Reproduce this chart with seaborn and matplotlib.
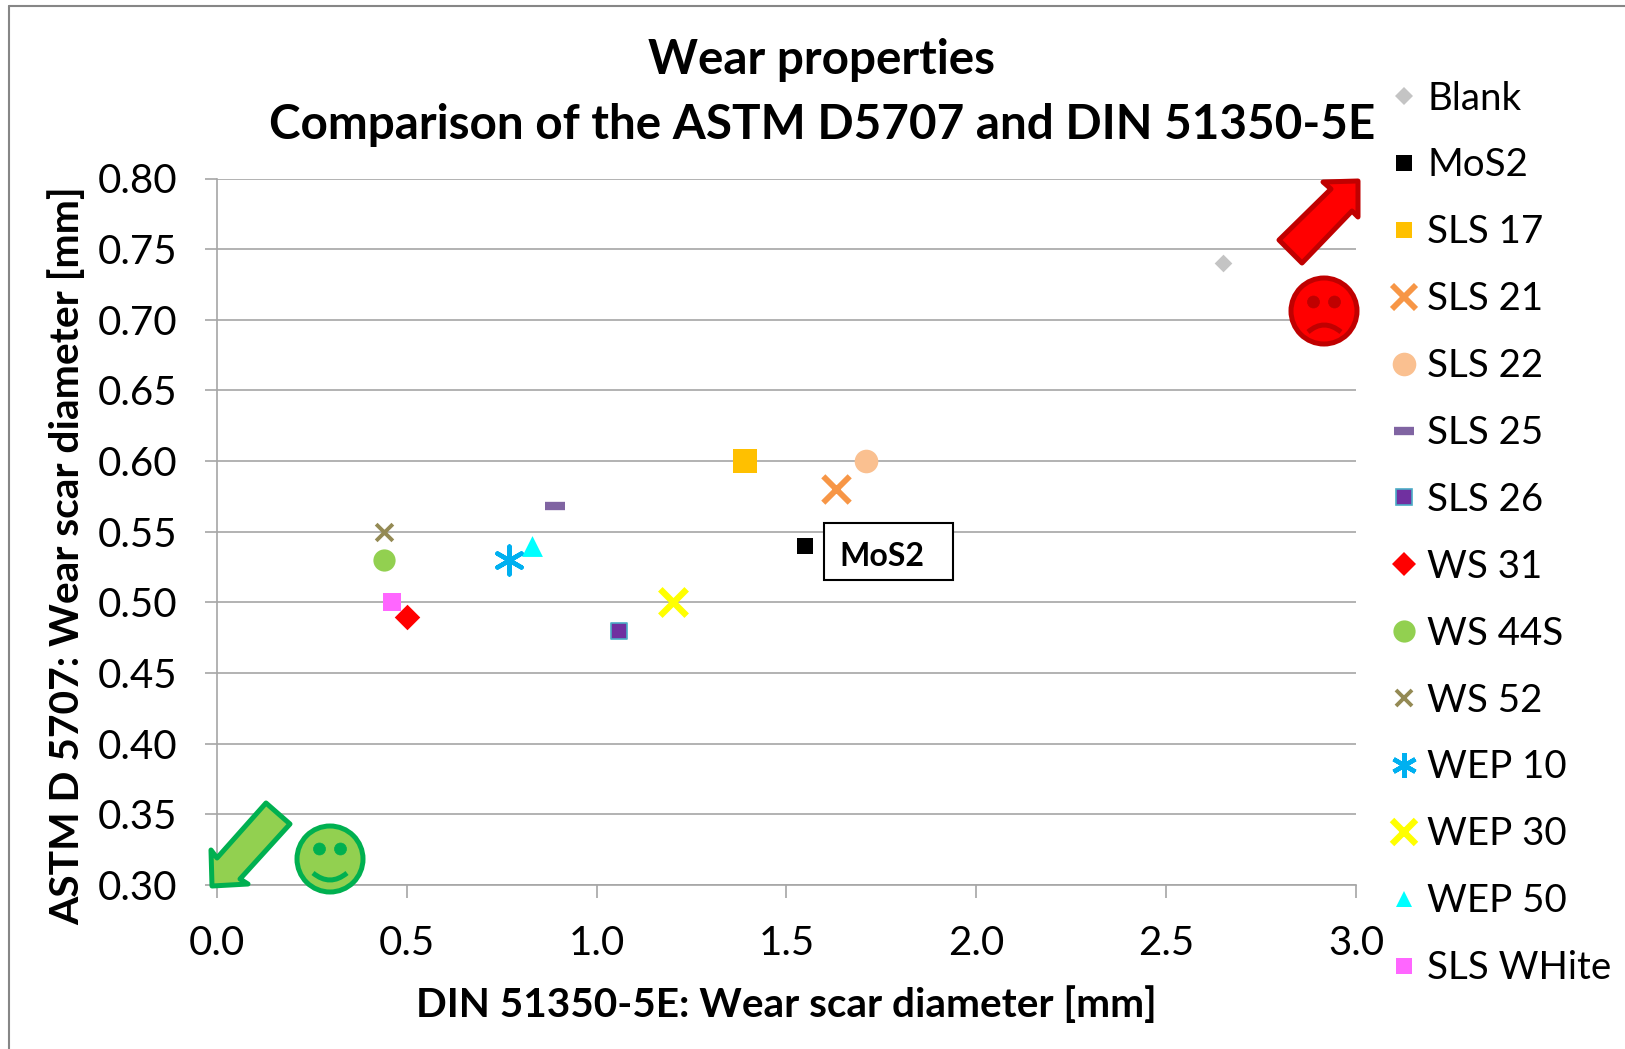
import matplotlib
matplotlib.use("Agg")
import matplotlib.pyplot as plt
from matplotlib.lines import Line2D
from matplotlib.patches import Polygon, Ellipse, Rectangle, PathPatch
from matplotlib.path import Path
import seaborn as sns
import pandas as pd

names = ["Blank", "MoS2", "SLS 17", "SLS 21", "SLS 22", "SLS 25", "SLS 26", "WS 31",
         "WS 44S", "WS 52", "WEP 10", "WEP 30", "WEP 50", "SLS WHite"]
din_scar = [2.65, 1.55, 1.39, 1.63, 1.71, 0.89, 1.06, 0.50, 0.44, 0.44, 0.77, 1.20, 0.83, 0.46]
astm_scar = [0.74, 0.54, 0.60, 0.58, 0.60, 0.568, 0.48, 0.49, 0.53, 0.55, 0.53, 0.50, 0.54, 0.50]
colors = ["#C4C4C4", "#000000", "#FFC000", "#F79646", "#FAC090", "#8064A2", "#7030A0", "#FF0000",
          "#92D050", "#948A54", "#00B0F0", "#FFFF00", "#00FFFF", "#FF66FF"]
edges = [None, None, None, None, None, None, "#4BACC6", None, None, None, None, None, None, None]
markers = ["D", "s", "s", "x", "o", "_", "s", "D", "o", "x", (6, 2, 0), "x", "^", "s"]
chart_sizes = [9, 12, 17, 19, 17, 15, 12, 13, 16, 12, 20, 19, 15, 13]
legend_sizes = [9, 12, 11, 17, 17, 15, 12, 12, 16, 12, 18, 17, 12, 11]
widths = [0, 0, 0, 4.2, 0, 6, 1.2, 0, 0, 2.8, 3.2, 4.6, 0, 0]
x_ticks = [0.0, 0.5, 1.0, 1.5, 2.0, 2.5, 3.0]
y_ticks = [0.30, 0.35, 0.40, 0.45, 0.50, 0.55, 0.60, 0.65, 0.70, 0.75, 0.80]
title_lines = ["Wear properties", "Comparison of the ASTM D5707 and DIN 51350-5E"]
x_label = "DIN 51350-5E: Wear scar diameter [mm]"
y_label = "ASTM D 5707: Wear scar diameter [mm]"

W, H = 1625, 1049
sns.set_theme(style="white")
plt.rcParams["font.family"] = ["Lato", "DejaVu Sans"]
fig = plt.figure(figsize=(W / 100, H / 100), dpi=100, facecolor="white")
def fx(p): return p / W
def fy(p): return 1 - p / H
def P(p): return (fx(p[0]), fy(p[1]))

ax = fig.add_axes([fx(217), fy(885), (1356 - 217) / W, (885 - 178.5) / H])
df = pd.DataFrame({"din": din_scar, "astm": astm_scar, "name": names})
for i, row in df.iterrows():
    ec = edges[i] if edges[i] else colors[i]
    sns.scatterplot(data=df.iloc[[i]], x="din", y="astm", marker=markers[i], color=colors[i],
                    s=chart_sizes[i] ** 2, linewidth=widths[i], edgecolor=ec, ax=ax, legend=False,
                    zorder=3, clip_on=False)

ax.set_xlim(0, 3.0)
ax.set_ylim(0.30, 0.80)
ax.set_xticks(x_ticks, [f"{v:.1f}" for v in x_ticks])
ax.set_yticks(y_ticks, [f"{v:.2f}" for v in y_ticks])
ax.yaxis.grid(True, color="#A6A6A6", linewidth=1.2)
ax.xaxis.grid(False)
ax.set_axisbelow(True)
for s in ("top", "right"):
    ax.spines[s].set_visible(False)
for s in ("left", "bottom"):
    ax.spines[s].set_color("#A6A6A6")
    ax.spines[s].set_linewidth(1.2)
ax.tick_params(axis="both", which="major", length=9, width=1.2, color="#A6A6A6",
               labelsize=29, labelcolor="black", left=True, bottom=True)
ax.tick_params(axis="y", pad=19.5)
ax.tick_params(axis="x", pad=20)
ax.set_xlabel("")
ax.set_ylabel("")

fig.text(fx(786), fy(1005), x_label, ha="center", va="center", fontsize=29.2, fontweight="bold", color="black")
fig.text(fx(67), fy(556), y_label, ha="center", va="center", rotation=90, fontsize=29.3, fontweight="bold", color="black")
fig.text(fx(822), fy(60), title_lines[0], ha="center", va="center", fontsize=34.3, fontweight="bold", color="black")
fig.text(fx(822), fy(125), title_lines[1], ha="center", va="center", fontsize=34.3, fontweight="bold", color="black")

handles = []
for i, n in enumerate(names):
    handles.append(Line2D([], [], linestyle="none", marker=markers[i], color=colors[i],
                          markersize=legend_sizes[i],
                          markeredgecolor=edges[i] if edges[i] else colors[i],
                          markeredgewidth=widths[i], label=n))
fig.legend(handles=handles, loc="upper left", bbox_to_anchor=(fx(1384.6), fy(80.5)), frameon=False,
           fontsize=27.7, labelspacing=0.803, handletextpad=0.11, handlelength=1.0, borderpad=0,
           borderaxespad=0, labelcolor="black")

# outer chart frame
fig.add_artist(Line2D([fx(9), fx(9)], [fy(6), fy(1049)], color="#868686", lw=1.5))
fig.add_artist(Line2D([fx(9), fx(1625)], [fy(6), fy(6)], color="#868686", lw=1.5))

# label box
fig.add_artist(Rectangle(P((824, 523)), (953 - 824) / W, -(580 - 523) / H, transform=fig.transFigure,
                         facecolor="white", edgecolor="black", lw=1.5, zorder=4))
fig.text(fx(882), fy(557), "MoS2", ha="center", va="center", fontsize=23, fontweight="bold",
         color="black", zorder=5)

# arrows and faces
def poly(pts, fc, ec):
    fig.add_artist(Polygon([P(p) for p in pts], closed=True, transform=fig.transFigure,
                           facecolor=fc, edgecolor=ec, lw=3.6, joinstyle="round", zorder=6))

def face(cx, cy, eyes_y, eye_dx, mouth, fc, ec):
    fig.add_artist(Ellipse(P((cx, cy)), 66 / W, 66 / H, transform=fig.transFigure,
                           facecolor=fc, edgecolor=ec, lw=3.6, zorder=6))
    for d in (-eye_dx, eye_dx):
        fig.add_artist(Ellipse(P((cx + d, eyes_y)), 12 / W, 12 / H, transform=fig.transFigure,
                               facecolor=ec, edgecolor=ec, lw=0.5, zorder=7))
    path = Path([P(q) for q in mouth], [Path.MOVETO, Path.CURVE3, Path.CURVE3])
    fig.add_artist(PathPatch(path, transform=fig.transFigure, facecolor="none", edgecolor=ec, lw=3.6, zorder=7))

poly([(1358, 181), (1323, 182), (1331, 189), (1279, 240), (1302, 263), (1352, 211), (1358, 217)],
     "#FF0000", "#C00000")
face(1324, 311, 302, 10.5, [(1308, 332), (1324, 318), (1341, 332)], "#FF0000", "#C00000")
poly([(212, 886), (248, 884), (240, 879), (290, 824), (266, 803), (217, 858), (211, 850)],
     "#92D050", "#00B050")
face(330, 859, 849, 10.5, [(313, 873), (330, 887), (347, 873)], "#92D050", "#00B050")

fig.savefig("out.png", dpi=100, facecolor="white")
